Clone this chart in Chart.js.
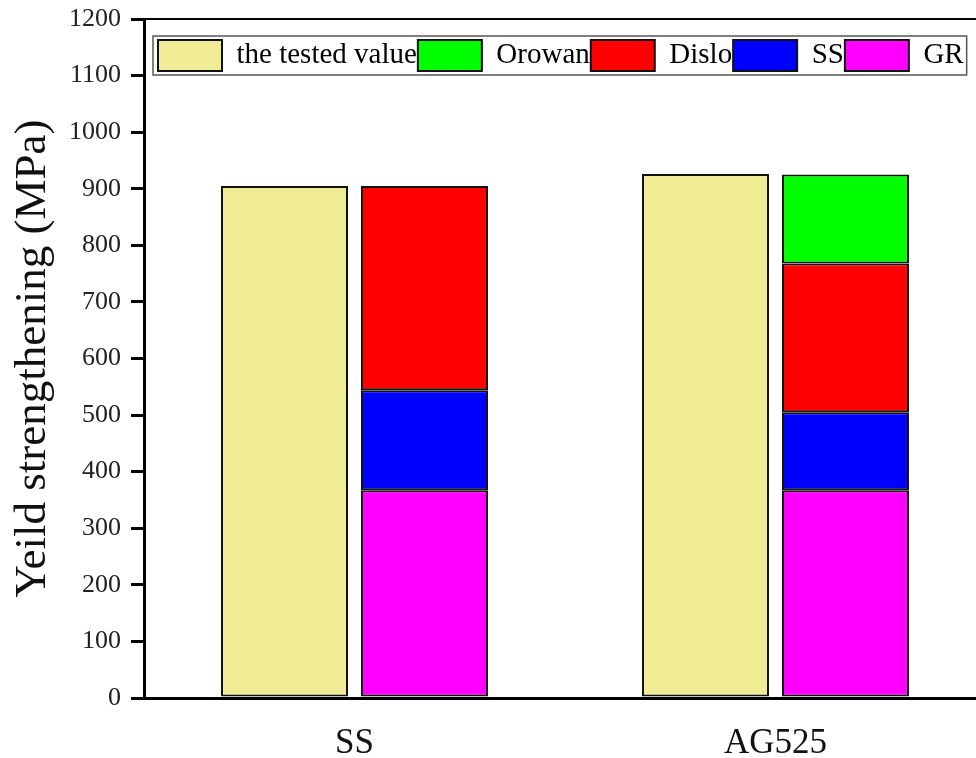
<!DOCTYPE html>
<html>
<head>
<meta charset="utf-8">
<script src="https://cdn.jsdelivr.net/npm/chart.js@4.4.0/dist/chart.umd.min.js"></script>
<style>
  html, body { margin: 0; padding: 0; background: #fff; overflow: hidden; }
  #wrap { width: 976px; height: 758px; overflow: hidden; }
</style>
</head>
<body>
<div id="wrap"><canvas id="chart" width="990" height="758"></canvas></div>
<script>
// samples and strengthening contributions (MPa)
const categories = ['SS', 'AG525'];
const testedValues = [905, 926];
const grValues = [367, 367];
const ssValues = [177, 138];
const disloValues = [361, 263];
const orowanValues = [null, 157];
const legendOrder = ['the tested value', 'Orowan', 'Dislo', 'SS', 'GR'];
const yTicks = { min: 0, max: 1200, step: 100 };

const serif = "'Liberation Serif', 'Times New Roman', serif";

// legend sits inside the plot, top-left: keep it out of the layout, then move it
const legendInside = {
  id: 'legendInside',
  beforeLayout(chart) {
    const legend = chart.legend;
    if (!legend || legend._patched) return;
    const fit = legend.fit;
    legend.fit = function () {
      fit.call(this);
      this._fullHeight = this.height;
      this.height = 0;
    };
    legend._patched = true;
  },
  afterLayout(chart) {
    const legend = chart.legend;
    const h = legend._fullHeight || 0;
    legend.left = chart.chartArea.left + 13;
    legend.top = 39;
    legend.height = h;
    legend.bottom = legend.top + h;
    legend.width = legend.right - legend.left;
  }
};

// frame line across the top of the plot and a box around the legend
const framePlugin = {
  id: 'frame',
  afterDraw(chart) {
    const { ctx, chartArea } = chart;
    ctx.save();
    ctx.strokeStyle = '#000';
    ctx.lineWidth = 2;
    ctx.beginPath();
    ctx.moveTo(chartArea.left, chartArea.top);
    ctx.lineTo(chartArea.right, chartArea.top);
    ctx.lineTo(chartArea.right, chartArea.bottom);
    ctx.stroke();

    const boxes = chart.legend.legendHitBoxes;
    if (boxes && boxes.length) {
      const l = Math.min(...boxes.map(b => b.left)) - 5;
      const r = Math.max(...boxes.map(b => b.left + b.width)) + 3;
      const t = Math.min(...boxes.map(b => b.top)) - 4;
      const btm = Math.max(...boxes.map(b => b.top + b.height)) + 4;
      ctx.strokeStyle = '#555';
      ctx.lineWidth = 1.5;
      ctx.strokeRect(l, t, r - l, btm - t);
    }
    ctx.restore();
  }
};

const barStyle = { borderColor: '#111', borderWidth: 2, borderSkipped: false };

new Chart(document.getElementById('chart'), {
  type: 'bar',
  data: {
    labels: categories,
    datasets: [
      { label: 'the tested value', data: testedValues, stack: 'tested', backgroundColor: 'rgb(240,236,150)', ...barStyle },
      { label: 'GR', data: grValues, stack: 'calc', backgroundColor: '#ff00ff', ...barStyle },
      { label: 'SS', data: ssValues, stack: 'calc', backgroundColor: '#0000ff', ...barStyle },
      { label: 'Dislo', data: disloValues, stack: 'calc', backgroundColor: '#ff0000', ...barStyle },
      { label: 'Orowan', data: orowanValues, stack: 'calc', backgroundColor: '#00ff00', ...barStyle }
    ]
  },
  options: {
    responsive: false,
    animation: false,
    categoryPercentage: 0.665,
    barPercentage: 0.907,
    layout: { padding: { top: 19, right: 4, left: 0, bottom: 0 } },
    plugins: {
      tooltip: { enabled: false },
      legend: {
        position: 'top',
        align: 'start',
        labels: {
          color: '#000',
          font: { family: serif, size: 29 },
          boxWidth: 64,
          boxHeight: 31,
          padding: 1,
          sort: (a, b) => legendOrder.indexOf(a.text) - legendOrder.indexOf(b.text)
        }
      }
    },
    scales: {
      x: {
        stacked: true,
        grid: { display: false },
        border: { display: true, color: '#000', width: 3 },
        ticks: { color: '#111', font: { family: serif, size: 35 }, padding: 17 },
        afterFit: (scale) => { scale.height = 60; }
      },
      y: {
        stacked: true,
        min: yTicks.min,
        max: yTicks.max,
        grid: { drawOnChartArea: false, drawTicks: true, tickLength: 13, color: '#000', lineWidth: 3 },
        border: { display: true, color: '#000', width: 3 },
        ticks: {
          stepSize: yTicks.step,
          color: '#222',
          font: { family: serif, size: 26 },
          padding: 10,
          callback: (v) => String(v)
        },
        title: {
          display: true,
          text: 'Yeild strengthening (MPa)',
          color: '#111',
          font: { family: serif, size: 45 },
          padding: { top: 6, bottom: 0 }
        },
        afterFit: (scale) => {
          scale.width = 144;
          scale.paddingTop = 0;
          scale.paddingBottom = 0;
        }
      }
    }
  },
  plugins: [legendInside, framePlugin]
});
</script>
</body>
</html>
